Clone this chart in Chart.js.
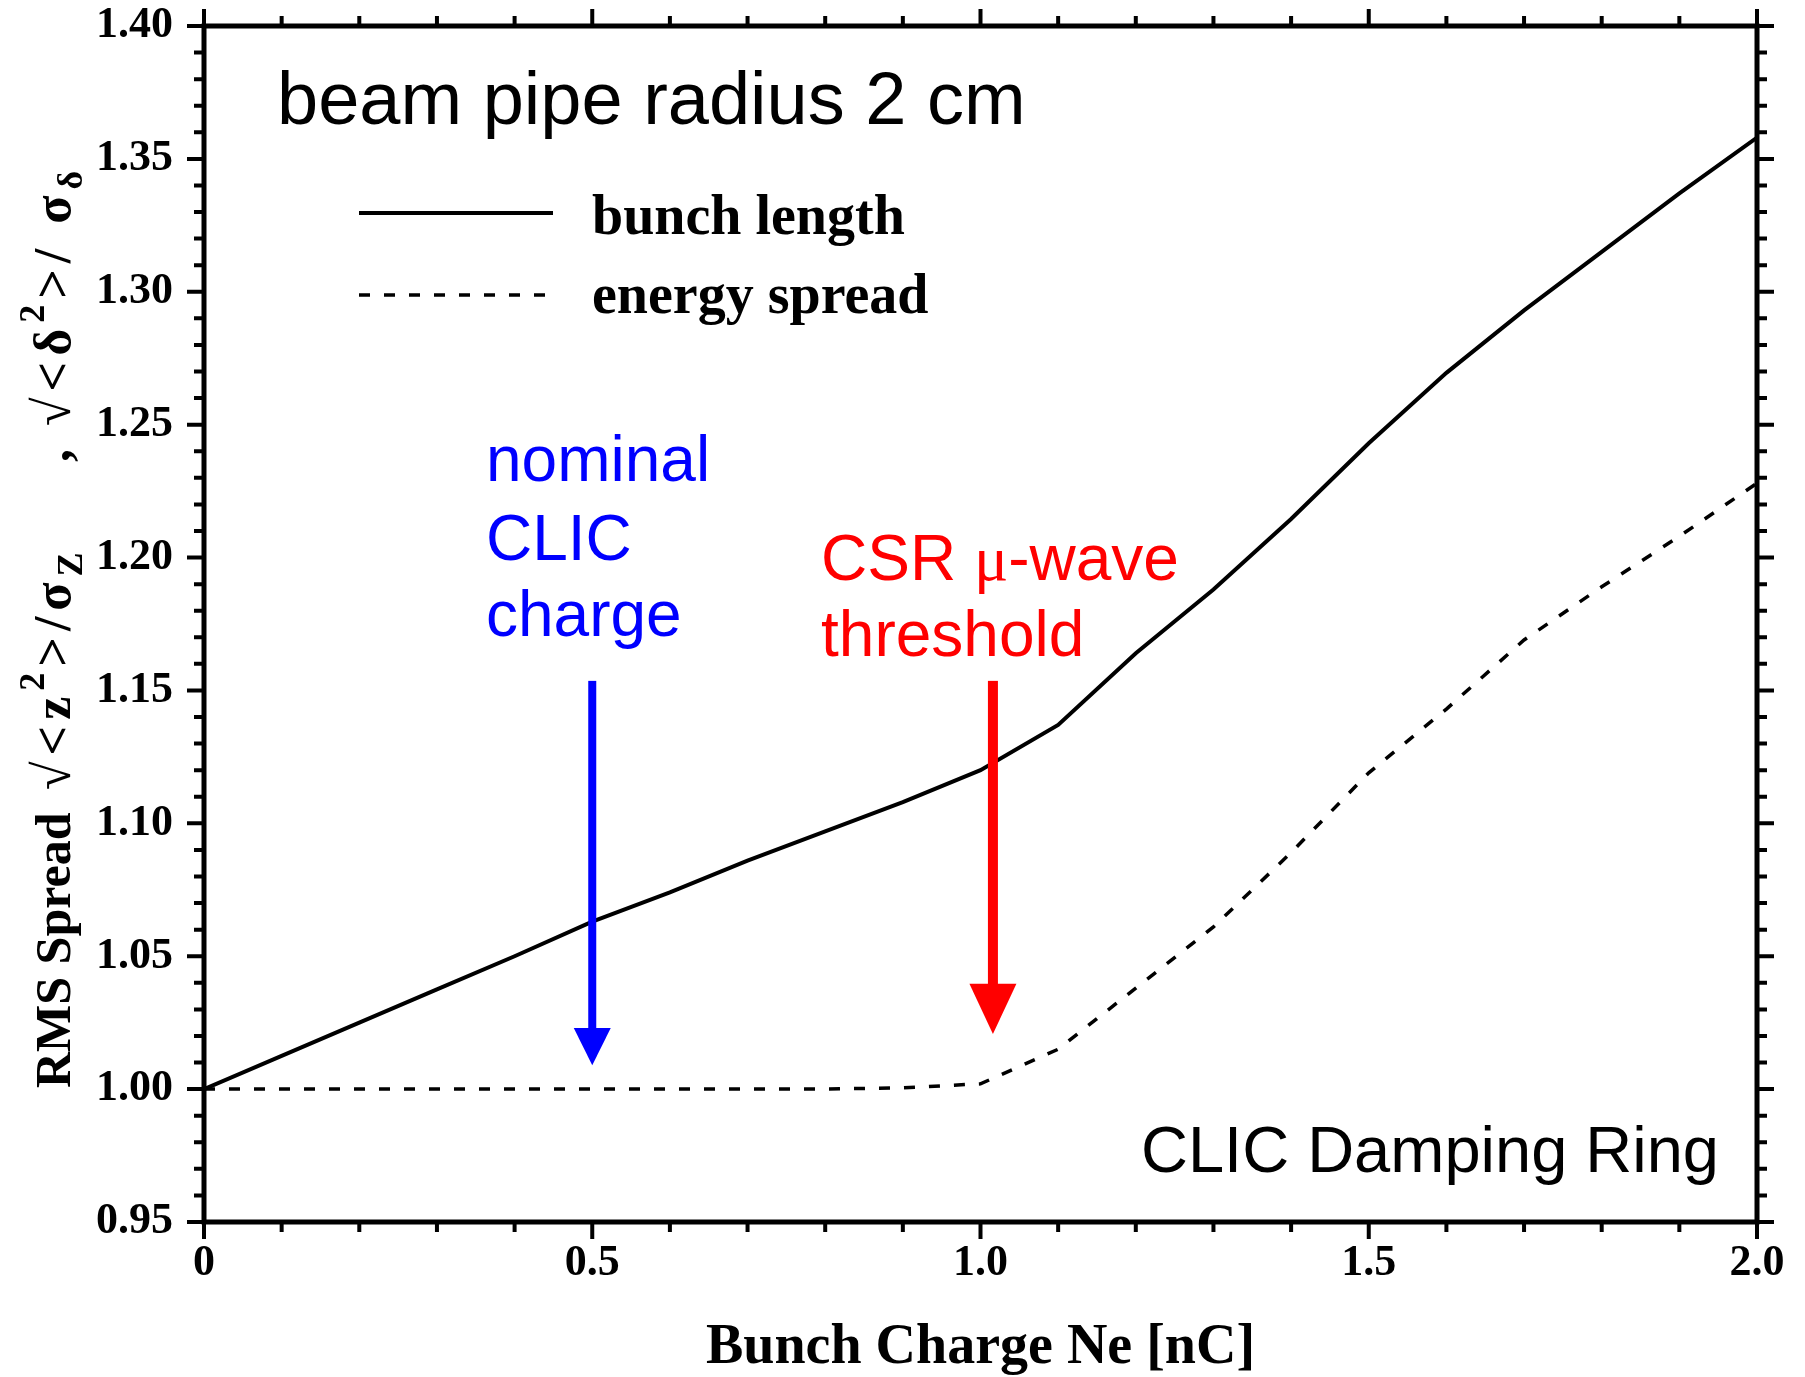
<!DOCTYPE html>
<html><head><meta charset="utf-8">
<script src="https://cdn.jsdelivr.net/npm/chart.js@4.4.0/dist/chart.umd.min.js"></script>
<style>html,body{margin:0;padding:0;background:#fff;}#wrap{width:1805px;height:1377px;}</style>
</head><body><div id="wrap"><canvas id="c" width="1805" height="1377"></canvas></div>
<script>
const charge = [0,0.1,0.2,0.3,0.4,0.5,0.6,0.7,0.8,0.9,1.0,1.1,1.2,1.3,1.4,1.5,1.6,1.7,1.8,1.9,2.0];
const bunchLength = [1.000,1.0125,1.025,1.0375,1.050,1.063,1.074,1.086,1.097,1.108,1.120,1.137,1.164,1.188,1.2145,1.243,1.2695,1.293,1.315,1.337,1.358];
const energySpread = [1.000,1.000,1.000,1.000,1.000,1.000,1.000,1.000,1.000,1.0005,1.002,1.015,1.038,1.061,1.089,1.119,1.143,1.169,1.189,1.208,1.228];
const xTickValues = [0,0.5,1.0,1.5,2.0];
const xTickLabels = ['0','0.5','1.0','1.5','2.0'];
const yTickValues = [0.95,1.00,1.05,1.10,1.15,1.20,1.25,1.30,1.35,1.40];
const yTickLabels = ['0.95','1.00','1.05','1.10','1.15','1.20','1.25','1.30','1.35','1.40'];
const seriesNames = ['bunch length','energy spread'];

const SERIF = '"Liberation Serif", "DejaVu Serif", serif';
const SANS = '"Liberation Sans", Arial, sans-serif';

const framePlugin = {
  id:'frame',
  afterDatasetsDraw(chart){
    const ctx = chart.ctx, a = chart.chartArea;
    const xs = chart.scales.x, ys = chart.scales.y;
    ctx.save();
    ctx.strokeStyle = '#000';
    ctx.lineCap = 'butt';
    ctx.lineWidth = 4;
    for (let i = 0; i <= 20; i++) {
      const v = i / 10, px = xs.getPixelForValue(v);
      const L = (i % 5 === 0) ? 17 : 10;
      ctx.beginPath();
      ctx.moveTo(px, a.bottom); ctx.lineTo(px, a.bottom + L);
      ctx.moveTo(px, a.top); ctx.lineTo(px, a.top - L);
      ctx.stroke();
    }
    for (let i = 0; i <= 45; i++) {
      const v = 0.95 + i / 100, py = ys.getPixelForValue(v);
      const L = (i % 5 === 0) ? 17 : 10;
      ctx.beginPath();
      ctx.moveTo(a.left, py); ctx.lineTo(a.left - L, py);
      ctx.moveTo(a.right, py); ctx.lineTo(a.right + L, py);
      ctx.stroke();
    }
    ctx.lineWidth = 5;
    ctx.strokeRect(a.left, a.top, a.right - a.left, a.bottom - a.top);
    ctx.restore();
  },
  afterDraw(chart){
    const ctx = chart.ctx, a = chart.chartArea;
    const xs = chart.scales.x, ys = chart.scales.y;
    ctx.save();
    ctx.fillStyle = '#000';
    ctx.textBaseline = 'alphabetic';
    // legend
    ctx.strokeStyle = '#000'; ctx.lineWidth = 4;
    ctx.beginPath(); ctx.moveTo(359, 213); ctx.lineTo(553, 213); ctx.stroke();
    ctx.setLineDash([11,14]); ctx.lineWidth = 3.5;
    ctx.beginPath(); ctx.moveTo(359, 295); ctx.lineTo(553, 295); ctx.stroke();
    ctx.setLineDash([]);
    ctx.font = 'bold 56px ' + SERIF;
    ctx.textAlign = 'left';
    ctx.fillText(seriesNames[0], 592, 234);
    ctx.fillText(seriesNames[1], 592, 313);
    // x axis title
    ctx.font = 'bold 56px ' + SERIF;
    ctx.textAlign = 'center';
    ctx.fillText('Bunch Charge Ne [nC]', (a.left + a.right) / 2, 1363);
    // y axis title (rotated)
    ctx.textAlign = 'left';
    ctx.save();
    ctx.translate(70, 0); ctx.rotate(-Math.PI/2);
    const big = 'bold 52px ' + SERIF, small = 'bold 36px ' + SERIF;
    function seq(startY, items, gap, font){
      let lx = -startY;
      for (const [t, k] of items) {
        ctx.font = k === 'n' ? (font || big) : small;
        const dy = k === 'sup' ? -26 : (k === 'sub' ? 12 : 0);
        ctx.fillText(t, lx, dy);
        lx += ctx.measureText(t).width + gap;
      }
    }
    seq(1088, [['RMS Spread','n']], 0, 'bold 50px ' + SERIF);
    seq(790, [['√','n'],['<','n'],['z','n'],['2','sup'],['>','n'],['/','n'],['σ','n'],['Z','sub']], 6);
    seq(462, [[',','n']], 0);
    seq(426, [['√','n'],['<','n'],['δ','n'],['2','sup'],['>','n'],['/','n'],[' ','n'],['σ','n'],['δ','sub']], 6);
    ctx.restore();
    // big titles
    ctx.textAlign = 'left';
    ctx.fillStyle = '#000';
    ctx.font = '74px ' + SANS;
    ctx.fillText('beam pipe radius 2 cm', 277, 124);
    ctx.font = '65px ' + SANS;
    ctx.fillText('CLIC Damping Ring', 1141, 1172);
    // blue annotation
    ctx.fillStyle = '#0000ff';
    ctx.font = '64px ' + SANS;
    ctx.fillText('nominal', 486, 481);
    ctx.fillText('CLIC', 486, 560);
    ctx.fillText('charge', 486, 636);
    // red annotation
    ctx.fillStyle = '#ff0000';
    let x0 = 821;
    ctx.font = '64px ' + SANS; ctx.fillText('CSR ', x0, 580); x0 += ctx.measureText('CSR ').width;
    ctx.font = '64px ' + SERIF; ctx.fillText('μ', x0, 580); x0 += ctx.measureText('μ').width;
    ctx.font = '64px ' + SANS; ctx.fillText('-wave', x0, 580);
    ctx.fillText('threshold', 821, 656);
    // arrows
    function arrow(xv, yTop, yHead, yTip, shaftW, headW, color){
      const px = xs.getPixelForValue(xv);
      const t = ys.getPixelForValue(yTop), h = ys.getPixelForValue(yHead), p = ys.getPixelForValue(yTip);
      ctx.fillStyle = color;
      ctx.fillRect(px - shaftW/2, t, shaftW, h - t + 1);
      ctx.beginPath();
      ctx.moveTo(px - headW/2, h); ctx.lineTo(px + headW/2, h); ctx.lineTo(px, p); ctx.closePath();
      ctx.fill();
    }
    arrow(0.5, 1.1536, 1.023, 1.009, 8, 37, '#0000ff');
    arrow(1.016, 1.1536, 1.0396, 1.0207, 10, 47, '#ff0000');
    ctx.restore();
  }
};

new Chart(document.getElementById('c').getContext('2d'), {
  type: 'line',
  data: {
    datasets: [
      { label: seriesNames[0], data: charge.map((x,i)=>({x, y: bunchLength[i]})),
        borderColor:'#000', borderWidth:4, pointRadius:0, fill:false, tension:0 },
      { label: seriesNames[1], data: charge.map((x,i)=>({x, y: energySpread[i]})),
        borderColor:'#000', borderWidth:3.5, borderDash:[11,14], borderCapStyle:'butt', pointRadius:0, fill:false, tension:0 }
    ]
  },
  options: {
    responsive:false, animation:false, devicePixelRatio:1,
    layout:{padding:{left:0,right:48,top:26,bottom:0}},
    plugins:{legend:{display:false}, tooltip:{enabled:false}},
    scales:{
      x:{ type:'linear', min:0, max:2,
        afterFit(s){ s.height = 155; s.paddingLeft = 0; s.paddingRight = 0; },
        afterBuildTicks(s){ s.ticks = xTickValues.map(v=>({value:v})); },
        grid:{display:false, drawTicks:false}, border:{display:false},
        ticks:{ padding:15, color:'#000', maxRotation:0, autoSkip:false,
          font:{family:SERIF, size:44, weight:'bold'},
          callback:(v,i)=>xTickLabels[i] } },
      y:{ type:'linear', min:0.95, max:1.40,
        afterFit(s){ s.width = 204; s.paddingTop = 0; s.paddingBottom = 0; },
        afterBuildTicks(s){ s.ticks = yTickValues.map(v=>({value:v})); },
        grid:{display:false, drawTicks:false}, border:{display:false},
        ticks:{ padding:31, color:'#000', autoSkip:false,
          font:{family:SERIF, size:44, weight:'bold'},
          callback:(v,i)=>yTickLabels[i] } }
    }
  },
  plugins:[framePlugin]
});
</script></body></html>
